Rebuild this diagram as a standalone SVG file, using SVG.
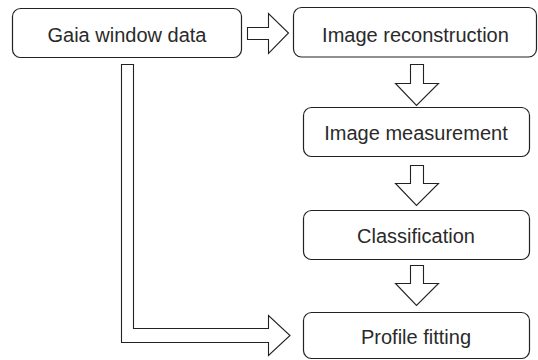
<svg xmlns="http://www.w3.org/2000/svg" width="538" height="360" viewBox="0 0 538 360">
<style>
.box{fill:#fff;stroke:#222;stroke-width:1.2}
.lbl{font-family:"Liberation Sans",Arial,sans-serif;font-size:20px;fill:#2a2a2a;text-anchor:middle}
.arr{fill:#fff;stroke:#222;stroke-width:1.1;stroke-linejoin:miter}
</style>
<rect width="538" height="360" fill="#fff"/>
<g id="connectors">
<path class="arr" d="M247.5,27.5 H268.5 V13.5 L288.5,33 L268.5,53.5 V39.5 H247.5 Z"/>
<path class="arr" d="M410.5,64.5 H423.5 V83.5 H438.5 L416.5,105.5 L395.5,83.5 H410.5 Z"/>
<path class="arr" d="M410.5,165.5 H423.5 V183.5 H438.5 L416.5,205.5 L395.5,183.5 H410.5 Z"/>
<path class="arr" d="M410.5,265.5 H423.5 V283.5 H438.5 L416.5,305.5 L395.5,283.5 H410.5 Z"/>
<path class="arr" d="M121.5,64.5 H133.5 V328.5 H268.5 V315.5 L290,335.5 L268.5,355.5 V342.5 H121.5 Z"/>
</g>
<g id="gaia">
<rect class="box" x="12.5" y="8.5" width="229" height="49" rx="8"/>
<text class="lbl" x="127" y="42">Gaia window data</text>
</g>
<g id="reconstruction">
<rect class="box" x="293.5" y="7.5" width="243" height="49.5" rx="8"/>
<text class="lbl" x="415.5" y="41.5">Image reconstruction</text>
</g>
<g id="measurement">
<rect class="box" x="303.5" y="107.5" width="226" height="49" rx="8"/>
<text class="lbl" x="416" y="140">Image measurement</text>
</g>
<g id="classification">
<rect class="box" x="303.5" y="210.5" width="226" height="49" rx="8"/>
<text class="lbl" x="416" y="243">Classification</text>
</g>
<g id="profile">
<rect class="box" x="303.5" y="312.5" width="226" height="46" rx="8"/>
<text class="lbl" x="416" y="344">Profile fitting</text>
</g>
</svg>
